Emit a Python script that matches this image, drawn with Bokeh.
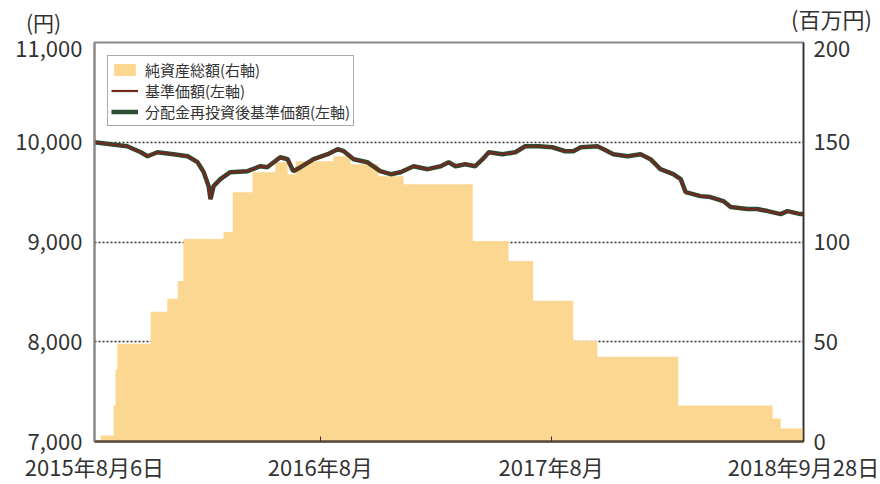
import pandas as pd
from bokeh.plotting import figure
from bokeh.layouts import column
from bokeh.models import (Range1d, LinearAxis, FixedTicker, NumeralTickFormatter,
                          Legend, LegendItem, Div)
from bokeh.embed import file_html
from bokeh.resources import INLINE

# ---------------- data ----------------
start_date = "2015-08-06"
tick_dates = ["2015-08-06", "2016-08-06", "2017-08-15", "2018-09-28"]
tick_labels = ["2015年8月6日", "2016年8月", "2017年8月", "2018年9月28日"]

# 基準価額 (days since start, yen)
nav_days = [0, 26, 53, 75, 86, 102, 128, 151, 167, 177, 185, 188, 193, 204, 220,
            248, 269, 280, 301, 313, 322, 334, 355, 378, 394, 404, 420, 442, 463, 480,
            496, 517, 540, 561, 574, 585, 601, 617, 629, 639, 661, 682, 698, 720, 742,
            763, 776, 788, 815, 825, 841, 864, 885, 901, 917, 938, 950, 958, 982, 998,
            1019, 1031, 1058, 1074, 1091, 1112, 1123, 1144, 1149]
nav_vals = [10000, 9980, 9960, 9900, 9860, 9900, 9880, 9860, 9800, 9700, 9560, 9430, 9560, 9630, 9700,
            9710, 9760, 9750, 9850, 9830, 9710, 9750, 9830, 9880, 9930, 9910, 9830, 9800, 9710, 9680,
            9700, 9760, 9730, 9760, 9800, 9760, 9780, 9760, 9830, 9900, 9880, 9900, 9960, 9960, 9950,
            9910, 9910, 9950, 9960, 9930, 9880, 9860, 9880, 9830, 9730, 9680, 9630, 9500, 9460, 9450,
            9410, 9350, 9330, 9330, 9310, 9280, 9310, 9280, 9280]

# 純資産総額 (days since start, 百万円)
na_days = [0, 10, 31, 34, 37, 91, 118, 135, 144, 209, 224, 256, 293, 313, 326,
           387, 415, 460, 501, 613, 671, 711, 776, 815, 946, 1099, 1112, 1149]
na_vals = [0, 3, 18, 36, 49, 65, 71.5, 80.5, 101.5, 105, 125, 135, 140, 134, 140.5,
           143, 139, 133, 129, 100.5, 90.5, 70.5, 50.5, 42.5, 18, 11.5, 6.5, 6.5]

left_ticks = [7000, 8000, 9000, 10000, 11000]
right_ticks = [0, 50, 100, 150, 200]
grid_vals = [8000, 9000, 10000]

legend_labels = ["純資産総額(右軸)", "基準価額(左軸)", "分配金再投資後基準価額(左軸)"]
unit_left = "(円)"
unit_right = "(百万円)"

# ---------------- style ----------------
FONT = "Noto Sans CJK JP"
TXT = "#333333"
AREA = "#FCD792"
RED = "#72291f"
GREEN = "#2a4c31"
W = 880
HEAD_H = 40

base = pd.Timestamp(start_date)
tick_x = [(pd.Timestamp(d) - base).days for d in tick_dates]

# ---- header strip carrying the axis unit captions ----
head_html = (
    f'<div style="position:relative;width:{W}px;height:26px;'
    f"font-family:'{FONT}';color:{TXT};\">"
    f'<div style="position:absolute;left:26px;top:12px;font-size:21px;line-height:21px;'
    f'white-space:nowrap;">{unit_left}</div>'
    f'<div style="position:absolute;left:791px;top:7px;font-size:22px;line-height:22px;'
    f'white-space:nowrap;">{unit_right}</div>'
    '</div>'
)
head = Div(text=head_html, width=W, height=HEAD_H, margin=0)

# ---- main chart ----
p = figure(width=W, height=484 - HEAD_H,
           x_range=Range1d(0, tick_x[-1]), y_range=Range1d(left_ticks[0], left_ticks[-1]),
           output_backend="svg", toolbar_location=None,
           min_border_left=94, min_border_right=77, min_border_top=42 - HEAD_H, min_border_bottom=41)
p.extra_y_ranges = {"na": Range1d(right_ticks[0], right_ticks[-1])}
p.background_fill_color = "white"
p.border_fill_color = "white"
p.outline_line_color = "#8a8a8a"
p.outline_line_width = 2

# grid
p.xgrid.visible = False
p.ygrid.ticker = FixedTicker(ticks=grid_vals)
p.ygrid.grid_line_color = "#333333"
p.ygrid.grid_line_dash = "2 2"
p.ygrid.grid_line_width = 1.3

# glyphs
r_area = p.varea_step(x=na_days, y1=[0] * len(na_days), y2=na_vals, step_mode="after",
                      fill_color=AREA, y_range_name="na")
r_green = p.line(nav_days, nav_vals, line_color=GREEN, line_width=4.5)
r_red = p.line(nav_days, nav_vals, line_color=RED, line_width=2.2)

# axes
def style_y(ax, standoff, line_color, line_width):
    ax.axis_line_color = line_color
    ax.axis_line_width = line_width
    ax.major_tick_line_color = None
    ax.minor_tick_line_color = None
    ax.major_tick_out = 0
    ax.minor_tick_out = 0
    ax.major_label_standoff = standoff
    ax.major_label_text_font = FONT
    ax.major_label_text_font_size = "22px"
    ax.major_label_text_color = TXT

ya = p.yaxis[0]
ya.ticker = FixedTicker(ticks=left_ticks)
ya.formatter = NumeralTickFormatter(format="0,0")
style_y(ya, 12, "#8a8a8a", 2)

ry = LinearAxis(y_range_name="na", ticker=FixedTicker(ticks=right_ticks))
style_y(ry, 10, "#333333", 1.5)
p.add_layout(ry, "right")

xa = p.xaxis[0]
xa.ticker = FixedTicker(ticks=tick_x)
xa.major_label_overrides = {t: l for t, l in zip(tick_x, tick_labels)}
xa.axis_line_color = "#5a4a3a"
xa.axis_line_width = 2.5
xa.major_tick_in = 5
xa.major_tick_out = 0
xa.minor_tick_out = 0
xa.major_tick_line_color = "#333333"
xa.minor_tick_line_color = None
xa.major_label_standoff = 8
xa.major_label_text_font = FONT
xa.major_label_text_font_size = "22px"
xa.major_label_text_color = TXT

# legend
legend = Legend(items=[LegendItem(label=legend_labels[0], renderers=[r_area]),
                       LegendItem(label=legend_labels[1], renderers=[r_red]),
                       LegendItem(label=legend_labels[2], renderers=[r_green])],
                location="top_left", margin=13, padding=3, spacing=0,
                glyph_width=27, glyph_height=15, label_height=17, label_standoff=7,
                label_text_font=FONT, label_text_font_size="15px", label_text_color=TXT,
                border_line_color="#555555", border_line_width=1.3,
                background_fill_color="white", background_fill_alpha=1.0)
p.add_layout(legend)

layout = column(head, p, spacing=0)
open("out.html", "w").write(file_html(layout, INLINE))
